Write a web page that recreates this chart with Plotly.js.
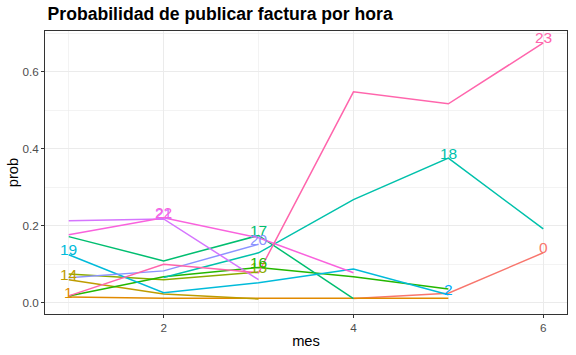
<!DOCTYPE html>
<html>
<head>
<meta charset="utf-8">
<script src="https://cdn.plot.ly/plotly-3.0.1.min.js"></script>
<style>html,body{margin:0;padding:0;background:#fff}#chart{width:576px;height:355px}</style>
</head>
<body>
<div id="chart"></div>
<script>
// Month axis
const mes = [1, 2, 3, 4, 5, 6];
// Hour levels (alphabetical factor order, as in the reference)
const horas = ["0", "1", "14", "15", "16", "17", "18", "19", "2", "20", "21", "22", "23"];
// Probability per hour, per month (null = no data)
const h0  = [null, null, null, 0.011, 0.025, 0.130];
const h1  = [0.015, 0.012, 0.012, 0.012, 0.012, null];
const h14 = [0.060, 0.023, 0.010, null, null, null];
const h15 = [0.075, 0.060, 0.080, null, null, null];
const h16 = [0.018, 0.068, 0.092, 0.068, 0.036, null];
const h17 = [0.172, 0.109, 0.175, 0.011, null, null];
const h18 = [null, 0.066, 0.130, 0.268, 0.376, 0.192];
const h19 = [0.125, 0.026, 0.052, 0.088, 0.021, null];
const h2  = [null, null, null, null, 0.022, null];
const h20 = [0.065, 0.083, 0.152, null, null, null];
const h21 = [0.213, 0.218, 0.060, null, null, null];
const h22 = [0.177, 0.221, 0.169, 0.078, null, null];
const h23 = [0.018, 0.100, 0.078, 0.548, 0.517, 0.675];
const series = [h0, h1, h14, h15, h16, h17, h18, h19, h2, h20, h21, h22, h23];
const colores = ["#F8766D", "#E18A00", "#BE9C00", "#8CAB00", "#24B700", "#00BE70", "#00C1AB",
                 "#00BBDA", "#00ACFC", "#8B93FF", "#D575FE", "#F962DD", "#FF65AC"];

const font = "Liberation Sans, Arial, Helvetica, sans-serif";
const traces = [];
const annotations = [];
series.forEach((ys, i) => {
  traces.push({
    x: mes, y: ys, type: "scatter", mode: "lines",
    line: {color: colores[i], width: 1.5},
    connectgaps: false, hoverinfo: "skip", showlegend: false
  });
  let best = -1;
  ys.forEach((v, j) => { if (v !== null && (best < 0 || v > ys[best])) best = j; });
  annotations.push({
    x: mes[best], y: ys[best], xref: "x", yref: "y", text: horas[i],
    showarrow: false, yshift: 5, font: {family: font, size: 15.5, color: colores[i]}
  });
});

const axisCommon = {
  showline: true, mirror: true, linecolor: "#333333", linewidth: 1,
  showgrid: true, gridcolor: "#EBEBEB", gridwidth: 1, zeroline: false,
  ticks: "outside", ticklen: 3, tickcolor: "#333333", tickwidth: 1,
  tickfont: {family: font, size: 11.7, color: "#4D4D4D"},
  automargin: false
};

const layout = {
  width: 576, height: 355,
  margin: {l: 45, r: 9, t: 31, b: 41},
  paper_bgcolor: "#fff", plot_bgcolor: "#fff",
  font: {family: font},
  title: {text: "<b>Probabilidad de publicar factura por hora</b>", font: {family: font, size: 17.6, color: "#000"},
          xref: "paper", x: 0.005, xanchor: "left", yref: "container", y: 1 - 14 / 355, yanchor: "middle"},
  xaxis: Object.assign({}, axisCommon, {
    range: [0.75, 6.25], tick0: 0, dtick: 2,
    minor: {dtick: 1, showgrid: true, gridcolor: "#EBEBEB", gridwidth: 0.6, ticks: ""},
    title: {text: "mes", font: {family: font, size: 14.7, color: "#000"}, standoff: 2}
  }),
  yaxis: Object.assign({}, axisCommon, {
    range: [-0.029, 0.706], tick0: 0, dtick: 0.2, tickformat: ".1f",
    minor: {dtick: 0.1, showgrid: true, gridcolor: "#EBEBEB", gridwidth: 0.6, ticks: ""},
    title: {text: "prob", font: {family: font, size: 14.7, color: "#000"}, standoff: 0}
  }),
  annotations: annotations
};

Plotly.newPlot("chart", traces, layout, {staticPlot: true, displayModeBar: false});
</script>
</body>
</html>
